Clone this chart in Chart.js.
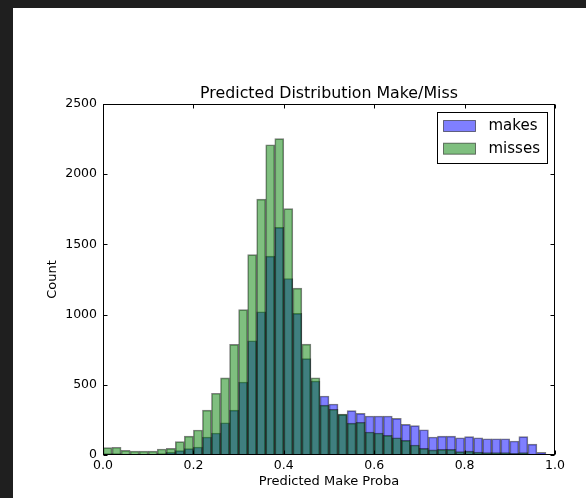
<!DOCTYPE html>
<html><head><meta charset="utf-8">
<script src="https://cdn.jsdelivr.net/npm/chart.js@4.4.1/dist/chart.umd.min.js"></script>
<style>
html,body{margin:0;padding:0;background:#1f1f1f;width:586px;height:498px;overflow:hidden}
#wrap{position:absolute;left:13px;top:8px;width:573px;height:490px;background:#fff}
canvas{display:block}
</style></head><body>
<div id="wrap"><canvas id="c" width="573" height="490"></canvas></div>
<script>
// ---- data ----
const binEdges = [0.00,0.02,0.04,0.06,0.08,0.10,0.12,0.14,0.16,0.18,
                  0.20,0.22,0.24,0.26,0.28,0.30,0.32,0.34,0.36,0.38,
                  0.40,0.42,0.44,0.46,0.48,0.50,0.52,0.54,0.56,0.58,
                  0.60,0.62,0.64,0.66,0.68,0.70,0.72,0.74,0.76,0.78,
                  0.80,0.82,0.84,0.86,0.88,0.90,0.92,0.94,0.96,0.98,1.00];
const makes = [10,10,5,5,5,5,10,19,31,45,
               57,128,157,230,320,520,814,1020,1417,1621,
               1257,1009,686,527,420,363,288,316,297,278,
               278,278,261,218,209,180,128,135,135,123,
               131,123,116,116,116,100,131,78,19,0];
const misses = [52,55,33,28,28,28,43,47,95,135,
                178,320,440,549,788,1036,1427,1823,2210,2253,
                1755,1189,790,550,355,326,292,227,233,164,
                157,140,123,104,71,47,36,40,40,24,
                28,21,17,17,17,12,17,7,5,0];
const xTickValues = [0,0.2,0.4,0.6,0.8,1.0];
const xTickLabels = ["0.0","0.2","0.4","0.6","0.8","1.0"];
const yTickValues = [0,500,1000,1500,2000,2500];
const yTickLabels = ["0","500","1000","1500","2000","2500"];
const seriesNames = ["makes","misses"];
const titleText = "Predicted Distribution Make/Miss";
const xTitle = "Predicted Make Proba";
const yTitle = "Count";

// ---- styles ----
const FONT = "'DejaVu Sans', sans-serif";
const fillMakes = 'rgba(0,0,255,0.5)';
const fillMisses = 'rgba(0,128,0,0.5)';
const edge = 'rgba(0,0,0,0.5)';

function toPoints(values){
  return values.map((v,i)=>({x:(binEdges[i]+binEdges[i+1])/2, y:v}));
}

const framePlugin = {
  id:'frame',
  afterDatasetsDraw(chart){
    const {ctx, chartArea, scales} = chart;
    const L = Math.round(chartArea.left)+0.5, R = Math.round(chartArea.right)-0.5;
    const T = Math.round(chartArea.top)+0.5, B = Math.round(chartArea.bottom)-0.5;
    ctx.save();
    ctx.strokeStyle = '#000'; ctx.lineWidth = 1;
    ctx.beginPath();
    xTickValues.forEach(v=>{
      const px = Math.round(scales.x.getPixelForValue(v))+0.5;
      ctx.moveTo(px,B); ctx.lineTo(px,B-4);
      ctx.moveTo(px,T); ctx.lineTo(px,T+4);
    });
    yTickValues.forEach(v=>{
      const py = Math.round(scales.y.getPixelForValue(v))+0.5;
      ctx.moveTo(L,py); ctx.lineTo(L+4,py);
      ctx.moveTo(R,py); ctx.lineTo(R-4,py);
    });
    ctx.stroke();
    ctx.strokeRect(L,T,R-L,B-T);
    // title centred over the axes
    ctx.fillStyle = '#000';
    ctx.font = "15.8px " + FONT;
    ctx.textAlign = 'center';
    ctx.textBaseline = 'middle';
    ctx.fillText(titleText, (chartArea.left+chartArea.right)/2, chartArea.top-10.5);
    // legend inside axes
    const bx = Math.round(chartArea.right-118.3)+0.5, by = Math.round(chartArea.top+8.3)+0.5;
    const bw = 110, bh = 51;
    ctx.fillStyle = '#fff';
    ctx.fillRect(bx,by,bw,bh);
    ctx.strokeStyle = '#000';
    ctx.strokeRect(bx,by,bw,bh);
    const fills = [fillMakes, fillMisses];
    ctx.font = "15px " + FONT;
    ctx.textBaseline = 'middle';
    ctx.textAlign = 'left';
    seriesNames.forEach((name,i)=>{
      const py = by + 8 + i*22.7;
      ctx.fillStyle = fills[i];
      ctx.fillRect(bx+6, py, 32, 11);
      ctx.strokeStyle = edge;
      ctx.strokeRect(bx+6, py, 32, 11);
      ctx.fillStyle = '#000';
      ctx.fillText(name, bx+51, py+6);
    });
    ctx.restore();
  }
};

new Chart(document.getElementById('c'), {
  type:'bar',
  data:{
    datasets:[
      {label:seriesNames[0], data:toPoints(makes), backgroundColor:fillMakes, borderColor:edge,
       borderWidth:1, order:1, grouped:false, barPercentage:1, categoryPercentage:1},
      {label:seriesNames[1], data:toPoints(misses), backgroundColor:fillMisses, borderColor:edge,
       borderWidth:1, order:0, grouped:false, barPercentage:1, categoryPercentage:1}
    ]
  },
  options:{
    responsive:false,
    animation:false,
    devicePixelRatio:1,
    layout:{padding:{left:0,right:31,top:96,bottom:0}},
    plugins:{
      legend:{display:false},
      tooltip:{enabled:false},
      title:{display:false}
    },
    scales:{
      x:{type:'linear', min:0, max:1, offset:false,
         grid:{display:false, offset:false, drawTicks:false}, border:{display:false},
         afterBuildTicks:s=>{ s.ticks = xTickValues.map(v=>({value:v})); },
         ticks:{color:'#000', font:{family:FONT, size:12.5}, padding:3, maxRotation:0, autoSkip:false,
                callback:(v,i)=>xTickLabels[i]},
         title:{display:true, text:xTitle, color:'#000', font:{family:FONT, size:13}, padding:{top:0,bottom:8.5}},
         afterFit:s=>{ s.height = 43; }
      },
      y:{type:'linear', min:0, max:2500,
         grid:{display:false, drawTicks:false}, border:{display:false},
         afterBuildTicks:s=>{ s.ticks = yTickValues.map(v=>({value:v})); },
         ticks:{color:'#000', font:{family:FONT, size:12.5}, padding:6,
                callback:(v,i)=>yTickLabels[i]},
         title:{display:true, text:yTitle, color:'#000', font:{family:FONT, size:13}, padding:{top:32,bottom:0}},
         afterFit:s=>{ s.width = 90; }
      }
    }
  },
  plugins:[framePlugin]
});
</script>
</body></html>
